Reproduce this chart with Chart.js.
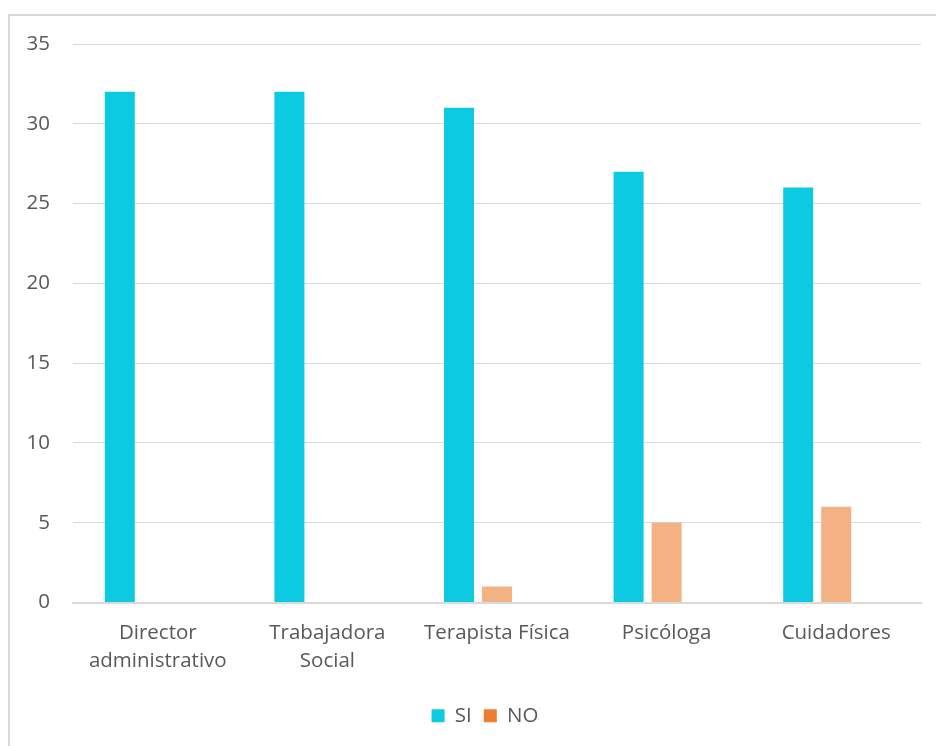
<!DOCTYPE html>
<html>
<head>
<meta charset="utf-8">
<script src="https://cdn.jsdelivr.net/npm/chart.js@4.4.1/dist/chart.umd.min.js"></script>
<style>
  html, body { margin: 0; padding: 0; background: #ffffff; }
  #frame {
    position: absolute; left: 8px; top: 14px; width: 940px; height: 740px;
    border: 2px solid #d9d9d9; box-sizing: border-box;
  }
  #wrap { position: absolute; left: 0; top: 0; width: 936px; height: 746px; }
</style>
</head>
<body>
<div id="frame"></div>
<div id="wrap"><canvas id="chart" width="936" height="746"></canvas></div>
<script>
const categories = [['Director', 'administrativo'], ['Trabajadora', 'Social'], 'Terapista Física', 'Psicóloga', 'Cuidadores'];
const siValues = [32, 32, 31, 27, 26];
const noValues = [0, 0, 1, 5, 6];
const spareValues = [];
const yTicks = [0, 5, 10, 15, 20, 25, 30, 35];

const FONT = '"Open Sans", Lato, sans-serif';
const TEXT = '#595959';

// Center the legend a little left of the plot area's middle.
const legendShift = {
  id: 'legendShift',
  afterLayout(chart) {
    const lg = chart.legend;
    if (!lg) return;
    const target = (chart.chartArea.left + chart.chartArea.right) / 2 - 12;
    const d = target - (lg.left + lg.right) / 2;
    lg.left += d;
    lg.right += d;
  }
};

new Chart(document.getElementById('chart'), {
  type: 'bar',
  data: {
    labels: categories,
    datasets: [
      { label: 'SI', data: siValues, backgroundColor: '#0ccae2', legendColor: '#0ccae2' },
      { label: 'NO', data: noValues, backgroundColor: '#f4b183', legendColor: '#ed7d31' },
      { label: '', data: spareValues, backgroundColor: 'rgba(0,0,0,0)' }
    ]
  },
  plugins: [legendShift],
  options: {
    responsive: false,
    animation: false,
    layout: { padding: { left: 0, right: 15, top: 44, bottom: 10 } },
    datasets: { bar: { categoryPercentage: 0.672, barPercentage: 0.79 } },
    plugins: {
      tooltip: { enabled: false },
      legend: {
        position: 'bottom',
        labels: {
          font: { family: FONT, size: 20.5 },
          color: TEXT,
          boxWidth: 13,
          boxHeight: 13,
          padding: 12,
          generateLabels(chart) {
            return chart.data.datasets
              .map((ds, i) => ({ ds, i }))
              .filter(o => o.ds.label)
              .map(o => ({
                text: o.ds.label,
                fillStyle: o.ds.legendColor,
                strokeStyle: o.ds.legendColor,
                lineWidth: 0,
                fontColor: TEXT,
                datasetIndex: o.i,
                hidden: false
              }));
          }
        }
      }
    },
    scales: {
      x: {
        grid: { display: false, drawTicks: false },
        border: { color: '#d9d9d9', width: 2 },
        ticks: {
          font: { family: FONT, size: 20.5, lineHeight: 1.4 },
          color: TEXT,
          padding: 16,
          maxRotation: 0,
          autoSkip: false
        },
        afterFit(scale) { scale.height = 91; }
      },
      y: {
        min: 0, max: 35,
        afterBuildTicks(scale) { scale.ticks = yTicks.map(v => ({ value: v })); },
        grid: { color: '#d9d9d9', lineWidth: 1, drawTicks: false },
        border: { display: false },
        ticks: {
          font: { family: FONT, size: 20.5 },
          color: TEXT,
          padding: 23
        },
        afterFit(scale) { scale.width = 73; }
      }
    }
  }
});
</script>
</body>
</html>
